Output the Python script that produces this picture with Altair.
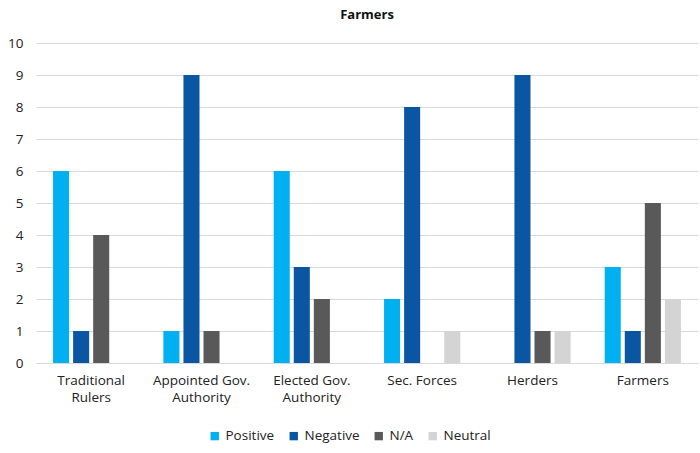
import altair as alt
import pandas as pd

categories = ["Traditional Rulers", "Appointed Gov. Authority", "Elected Gov. Authority",
              "Sec. Forces", "Herders", "Farmers"]
series = ["Positive", "Negative", "N/A", "Neutral"]
positive = [6, 1, 6, 2, 0, 3]
negative = [1, 9, 3, 8, 9, 1]
na = [4, 1, 2, 0, 1, 5]
neutral = [0, 0, 0, 1, 1, 2]
colors = ["#00B0F0", "#0A56A3", "#595959", "#D4D4D4"]
y_ticks = list(range(0, 11))

rows = []
for i, c in enumerate(categories):
    for s, vals in zip(series, [positive, negative, na, neutral]):
        rows.append({"cat": c, "series": s, "value": vals[i]})
df = pd.DataFrame(rows)

font = "Open Sans"
label_expr = ("datum.label == 'Traditional Rulers' ? ['Traditional', 'Rulers'] : "
              "datum.label == 'Appointed Gov. Authority' ? ['Appointed Gov.', 'Authority'] : "
              "datum.label == 'Elected Gov. Authority' ? ['Elected Gov.', 'Authority'] : datum.label")

chart = alt.Chart(df).mark_bar().encode(
    x=alt.X("cat:N", sort=categories, title=None,
            scale=alt.Scale(paddingInner=0, paddingOuter=0),
            axis=alt.Axis(labelAngle=0, labelExpr=label_expr, labelFont=font, labelFontSize=13.5,
                          labelColor="#222222", labelPadding=10, labelLineHeight=17,
                          ticks=False, domainColor="#d9d9d9", labelBaseline="top")),
    xOffset=alt.XOffset("series:N", sort=series,
                        scale=alt.Scale(paddingInner=0.2, paddingOuter=0.85)),
    y=alt.Y("value:Q", title=None, scale=alt.Scale(domain=[0, 10]),
            axis=alt.Axis(values=y_ticks, domain=False, ticks=False, labelFont=font,
                          labelFontSize=13.5, labelColor="#222222", labelPadding=13,
                          gridColor="#d9d9d9")),
    color=alt.Color("series:N", sort=series,
                    scale=alt.Scale(domain=series, range=colors),
                    legend=alt.Legend(title=None, orient="none", direction="horizontal",
                                      legendX=172, legendY=386, symbolType="square",
                                      symbolSize=70, labelFont=font, labelFontSize=13.5,
                                      labelColor="#222222", columnPadding=12,
                                      symbolStrokeWidth=0)),
).properties(
    width=662, height=320,
    title=alt.TitleParams("Farmers", font=font, fontSize=13, fontWeight="bold",
                          color="#111111", anchor="middle", offset=14),
    autosize=alt.AutoSizeParams(type="none"),
    padding={"left": 36, "top": 43, "right": 2, "bottom": 90},
).configure_view(stroke=None)

chart.save("out.html", embed_options={"renderer": "svg", "actions": False})
